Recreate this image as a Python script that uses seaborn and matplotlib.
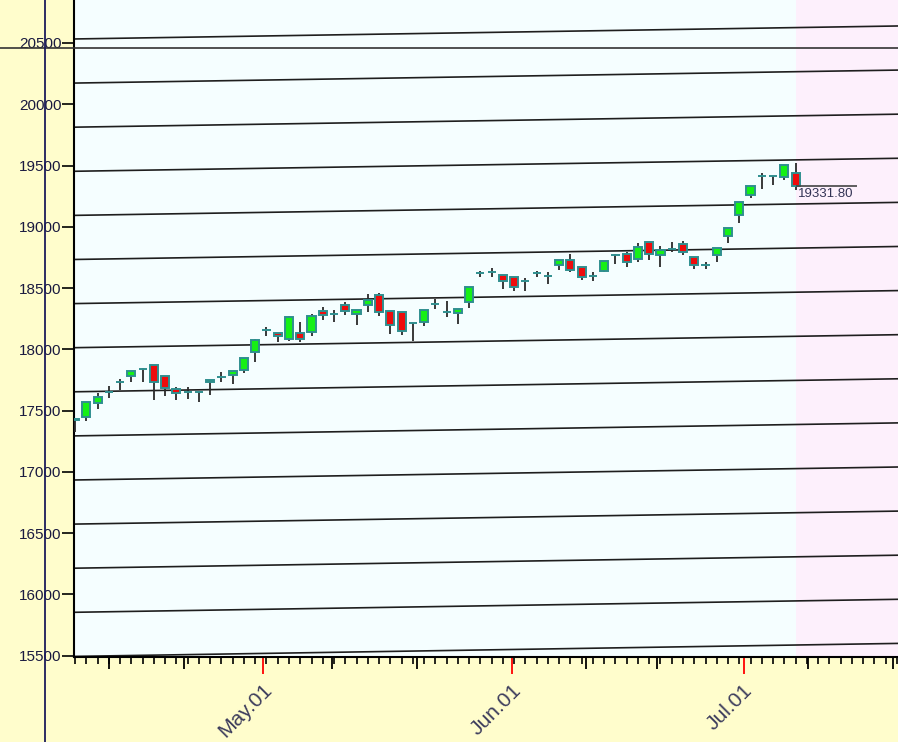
import numpy as np
import pandas as pd
import matplotlib
matplotlib.use("Agg")
import matplotlib.pyplot as plt
import matplotlib.transforms as mtransforms
from matplotlib.lines import Line2D
import seaborn as sns

# daily candles (Apr -> early Jul)
opens = [17425, 17444, 17559, 17650, 17730, 17780, 17837, 17869, 17780, 17673,
         17649, 17649, 17730, 17771, 17788, 17828, 17975, 18155, 18131, 18082,
         18131, 18139, 18311, 18290, 18360, 18286, 18360, 18441, 18311, 18302,
         18212, 18221, 18368, 18302, 18294, 18384, 18621, 18629, 18605, 18588,
         18556, 18621, 18600, 18686, 18727, 18670, 18600, 18637, 18768, 18776,
         18735, 18874, 18768, 18820, 18858, 18751, 18686, 18768, 18923, 19095,
         19258, 19413, 19413, 19405, 19438]
highs = [17436, 17567, 17641, 17698, 17755, 17822, 17845, 17872, 17785, 17690,
         17690, 17652, 17747, 17812, 17820, 17926, 18082, 18180, 18135, 18270,
         18221, 18286, 18343, 18319, 18384, 18322, 18449, 18457, 18315, 18305,
         18215, 18319, 18408, 18392, 18330, 18507, 18637, 18662, 18610, 18592,
         18580, 18637, 18629, 18730, 18776, 18675, 18629, 18719, 18776, 18792,
         18866, 18878, 18842, 18874, 18882, 18755, 18711, 18825, 18990, 19201,
         19335, 19438, 19418, 19503, 19520]
lows = [17322, 17412, 17510, 17600, 17665, 17730, 17730, 17583, 17616, 17583,
        17592, 17567, 17624, 17730, 17714, 17804, 17894, 18106, 18057, 18065,
        18057, 18106, 18237, 18221, 18278, 18196, 18302, 18270, 18123, 18115,
        18065, 18188, 18327, 18261, 18204, 18335, 18588, 18588, 18490, 18474,
        18474, 18588, 18531, 18645, 18629, 18564, 18556, 18629, 18694, 18670,
        18711, 18727, 18670, 18792, 18768, 18654, 18654, 18711, 18866, 19030,
        19234, 19307, 19340, 19381, 19300]
closes = [17430, 17567, 17608, 17650, 17730, 17820, 17837, 17730, 17682, 17640,
          17649, 17649, 17747, 17771, 17820, 17926, 18073, 18155, 18106, 18262,
          18082, 18270, 18278, 18290, 18311, 18319, 18400, 18302, 18196, 18147,
          18212, 18319, 18368, 18302, 18327, 18507, 18621, 18629, 18556, 18507,
          18556, 18621, 18600, 18727, 18645, 18588, 18600, 18719, 18768, 18711,
          18833, 18776, 18809, 18820, 18792, 18686, 18686, 18825, 18988, 19201,
          19332, 19413, 19413, 19503, 19331.8]
last_label = "19331.80"

# sloping guide lines: level at the first bar and at the right edge
guide_start = [20533, 20173, 19813, 19453, 19093, 18733, 18373, 18013,
               17653, 17293, 16933, 16573, 16213, 15853, 15493]
guide_end = [20639, 20279, 19919, 19559, 19199, 18839, 18479, 18119,
             17759, 17399, 17039, 16679, 16319, 15959, 15599]
crosshair_price = 20459

month_labels = ["May.01", "Jun.01", "Jul.01"]
month_pos = [16.7, 38.8, 59.4]
dekad_pos = [3.0, 9.7, 22.8, 30.4, 45.4, 51.7, 65.1, 72.7]
price_ticks = list(range(15500, 21000, 500))

df = pd.DataFrame({"open": opens, "high": highs, "low": lows, "close": closes})
df["i"] = np.arange(len(df))
df["bottom"] = df[["open", "close"]].min(axis=1)
df["height"] = (df["close"] - df["open"]).abs()
df["color"] = np.where(df["close"] >= df["open"], "#16f016", "#ee0c0c")

sns.set_style("ticks")
plt.rcParams["font.family"] = ["Liberation Sans", "DejaVu Sans"]

fig = plt.figure(figsize=(8.98, 7.42), dpi=100, facecolor="#fffdcc")
ax = fig.add_axes([74 / 898, 85 / 742, 824 / 898, 657 / 742])
ax.set_facecolor("#f5feff")

x_right = 73.1
ax.set_xlim(-0.1, x_right)
ax.set_ylim(15488, 20851)

# future zone
ax.axvspan(len(df) - 1, x_right + 5, color="#fdf0fc", lw=0, zorder=0)

for s, e in zip(guide_start, guide_end):
    ax.plot([0, x_right], [s, e], color="#1e1e1e", lw=1.2, zorder=2)

ax.vlines(df["i"], df["low"], df["high"], color="#2a2a2a", lw=1.3, zorder=3)
ax.bar(df["i"], df["height"], bottom=df["bottom"], width=0.72,
       color=df["color"], edgecolor="#2f8f8f", linewidth=1.4, zorder=4)

# last price marker
last = len(df) - 1
ax.hlines(closes[-1], last, last + 5.5, color="#444444", lw=1.2, zorder=5)
ax.annotate(last_label, (last, closes[-1]), xytext=(1.5, -1.5),
            textcoords="offset points", ha="left", va="top",
            fontsize=9.5, color="#333355", zorder=6)

# crosshair
ax.axhline(crosshair_price, xmin=-74 / 824, xmax=1, clip_on=False,
           color="#333333", lw=1.2, zorder=6)
fig.add_artist(Line2D([45 / 898, 45 / 898], [0, 1], transform=fig.transFigure,
                      color="#1c1c5c", lw=1.3))

# y axis
ax.set_yticks(price_ticks)
ax.tick_params(axis="y", direction="out", length=8.6, width=1.2,
               color="black", pad=0.5, labelsize=11, labelcolor="#1a1a40")

# x axis: red month starts (labelled), daily minor ticks, 10th/20th ticks
ax.set_xticks(month_pos)
ax.set_xticklabels(month_labels)
ax.set_xticks(np.arange(0, int(x_right) + 1), minor=True)
ax.tick_params(axis="x", which="minor", direction="out", length=5, width=1.2,
               color="black")
ax.tick_params(axis="x", which="major", direction="out", length=12.2, width=1.3,
               color="#ff0000", pad=9.5, labelsize=15, labelcolor="#3c3c5c")
ax.vlines(dekad_pos, 0, -12 / 657, transform=ax.get_xaxis_transform(),
          clip_on=False, color="black", lw=1.3)

shift = mtransforms.ScaledTranslation(6 / 100, 0, fig.dpi_scale_trans)
for lab in ax.get_xticklabels():
    lab.set_rotation(45)
    lab.set_rotation_mode("anchor")
    lab.set_ha("right")
    lab.set_va("center")
    lab.set_transform(lab.get_transform() + shift)

for side in ["top", "right"]:
    ax.spines[side].set_visible(False)
for side in ["left", "bottom"]:
    ax.spines[side].set_color("black")
    ax.spines[side].set_linewidth(1.5)
ax.grid(False)

fig.savefig("out.png", dpi=100, facecolor=fig.get_facecolor())
